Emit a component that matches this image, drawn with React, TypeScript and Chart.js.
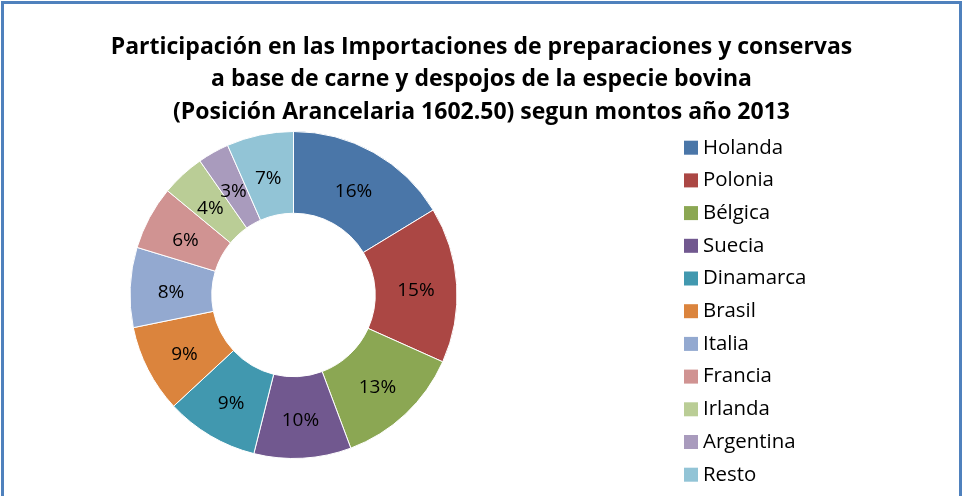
import React, { useEffect, useRef } from 'react';
import { Chart, registerables, layouts } from 'chart.js';

Chart.register(...registerables);

const titleLines = [
  'Participación en las Importaciones de preparaciones y conservas',
  'a base de carne y despojos de la especie bovina',
  '(Posición Arancelaria 1602.50) segun montos año 2013',
];
const categories = ['Holanda', 'Polonia', 'Bélgica', 'Suecia', 'Dinamarca', 'Brasil', 'Italia', 'Francia', 'Irlanda', 'Argentina', 'Resto'];
const shares = [16.3, 15.4, 12.6, 9.6, 9.2, 8.7, 7.9, 6.3, 4.3, 3.1, 6.6];
const colors = ['#4A76A8', '#AB4744', '#8BA753', '#71588F', '#4198AF', '#DB843D', '#93A9D0', '#D09392', '#BACD96', '#A99BBD', '#92C4D6'];

const W = 963;
const H = 496;
const LEGEND_W = 376;
const FONT = '"Open Sans"';

const sliceLabels = {
  id: 'sliceLabels',
  afterDatasetsDraw(chart: any) {
    const ctx = chart.ctx;
    const meta = chart.getDatasetMeta(0);
    const data = chart.data.datasets[0].data as number[];
    const total = data.reduce((a, b) => a + b, 0);
    ctx.save();
    ctx.font = `19px ${FONT}`;
    ctx.fillStyle = '#000';
    ctx.textAlign = 'center';
    ctx.textBaseline = 'middle';
    meta.data.forEach((arc: any, i: number) => {
      const p = arc.getCenterPoint();
      ctx.fillText(Math.round((data[i] / total) * 100) + '%', p.x, p.y + 3.5);
    });
    ctx.restore();
  },
};

const sideLegend = {
  id: 'sideLegend',
  beforeInit(chart: any) {
    const box: any = {
      position: 'right',
      weight: 0,
      fullSize: false,
      options: {},
      left: 0, top: 0, right: 0, bottom: 0, width: 0, height: 0,
      isHorizontal() { return false; },
      update(_mw: number, mh: number) { this.width = LEGEND_W; this.height = mh; },
      draw() {
        const ctx = chart.ctx;
        const labels = chart.data.labels as string[];
        const bg = chart.data.datasets[0].backgroundColor as string[];
        ctx.save();
        ctx.font = `20.4px ${FONT}`;
        ctx.textAlign = 'left';
        ctx.textBaseline = 'middle';
        labels.forEach((lab, i) => {
          const cy = this.top + 16.7 + i * 32.7;
          const x = this.left + 187;
          ctx.fillStyle = bg[i];
          ctx.fillRect(x, cy - 7, 14, 14);
          ctx.fillStyle = '#000';
          ctx.fillText(lab, x + 19, cy);
        });
        ctx.restore();
      },
    };
    layouts.addBox(chart, box);
  },
};

export default function App() {
  const ref = useRef<HTMLCanvasElement>(null);
  useEffect(() => {
    document.body.style.margin = '0';
    const chart = new Chart(ref.current!, {
      type: 'doughnut',
      data: {
        labels: categories,
        datasets: [{
          data: shares,
          backgroundColor: colors,
          borderColor: '#ffffff',
          borderWidth: 1,
        }],
      },
      options: {
        responsive: false,
        animation: false,
        cutout: '50%',
        layout: { padding: { left: 90, right: 90, top: 0, bottom: 37 } },
        plugins: {
          legend: { display: false },
          tooltip: { enabled: false },
          title: {
            display: true,
            text: titleLines,
            color: '#000',
            font: { family: FONT, size: 23, weight: 'bold', lineHeight: '32.5px' },
            padding: { top: 30.75, bottom: 2.75 },
          },
        },
      },
      plugins: [sliceLabels, sideLegend],
    });
    return () => chart.destroy();
  }, []);
  return (
    <div style={{ position: 'relative', width: W, height: H, overflow: 'hidden', background: '#fff' }}>
      <canvas ref={ref} width={W} height={H} style={{ position: 'absolute', left: 0, top: 0 }} />
      <div style={{ position: 'absolute', left: 1, top: 1, width: 961, height: 530, boxSizing: 'border-box', border: '3px solid #4F81BD', pointerEvents: 'none' }} />
    </div>
  );
}
